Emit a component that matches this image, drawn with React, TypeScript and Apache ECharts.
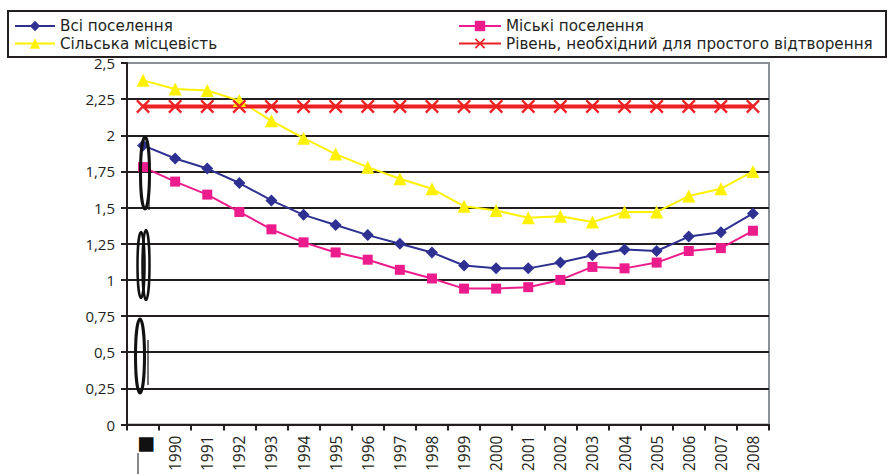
import React, { useEffect, useRef } from "react";
import * as echarts from "echarts";

const categories = ["1989", "1990", "1991", "1992", "1993", "1994", "1995", "1996", "1997", "1998", "1999", "2000", "2001", "2002", "2003", "2004", "2005", "2006", "2007", "2008"];
const allSettlements = [1.93, 1.84, 1.77, 1.67, 1.55, 1.45, 1.38, 1.31, 1.25, 1.19, 1.10, 1.08, 1.08, 1.12, 1.17, 1.21, 1.20, 1.30, 1.33, 1.46];
const urban = [1.78, 1.68, 1.59, 1.47, 1.35, 1.26, 1.19, 1.14, 1.07, 1.01, 0.94, 0.94, 0.95, 1.00, 1.09, 1.08, 1.12, 1.20, 1.22, 1.34];
const rural = [2.38, 2.32, 2.31, 2.24, 2.10, 1.98, 1.87, 1.78, 1.70, 1.63, 1.51, 1.48, 1.43, 1.44, 1.40, 1.47, 1.47, 1.58, 1.63, 1.75];
const replacement = [2.2, 2.2, 2.2, 2.2, 2.2, 2.2, 2.2, 2.2, 2.2, 2.2, 2.2, 2.2, 2.2, 2.2, 2.2, 2.2, 2.2, 2.2, 2.2, 2.2];
const seriesNames = ["Всі поселення", "Міські поселення", "Сільська місцевість", "Рівень, необхідний для простого відтворення"];

const FONT = "Open Sans";
const LEGEND_FONT = "DejaVu Sans";
const CROSS = "path://M0,1.2 L1.2,0 L5,3.8 L8.8,0 L10,1.2 L6.2,5 L10,8.8 L8.8,10 L5,6.2 L1.2,10 L0,8.8 L3.8,5 Z";

export default function App() {
  const ref = useRef<HTMLDivElement>(null);
  useEffect(() => {
    const chart = echarts.init(ref.current!, null, { renderer: "svg" });
    const legendText = { fontFamily: LEGEND_FONT, fontSize: 15.2, color: "#231f20", lineHeight: 15 };
    const mkLegend = (name: string, left: number, top: number, w: number) => ({
      data: [name], orient: "horizontal", left, top, itemWidth: w, itemHeight: 13, itemGap: 0,
      textStyle: legendText, padding: 0,
    });
    chart.setOption({
      animation: false,
      backgroundColor: "#ffffff",
      textStyle: { fontFamily: FONT },
      grid: { left: 127, right: 120, top: 63, bottom: 49, show: true, borderColor: "#8a9196", borderWidth: 2 },
      legend: [
        mkLegend(seriesNames[0], 14, 18.5, 40),
        mkLegend(seriesNames[2], 14, 36, 40),
        mkLegend(seriesNames[1], 458, 18.5, 42),
        mkLegend(seriesNames[3], 458, 36, 42),
      ],
      graphic: [
        { type: "rect", shape: { x: 8, y: 11, width: 878, height: 46 }, style: { fill: "none", stroke: "#231f20", lineWidth: 2 }, z: 10 },
        // garbled glyph artefacts of the original
        { type: "ellipse", shape: { cx: 145, cy: 173, rx: 4.5, ry: 36 }, style: { fill: "none", stroke: "#111", lineWidth: 3 }, z: 5 },
        { type: "line", shape: { x1: 149, y1: 168, x2: 149, y2: 210 }, style: { stroke: "#111", lineWidth: 1.2 }, z: 5 },
        { type: "ellipse", shape: { cx: 141, cy: 265, rx: 3.5, ry: 33 }, style: { fill: "none", stroke: "#111", lineWidth: 2.5 }, z: 5 },
        { type: "ellipse", shape: { cx: 146, cy: 265, rx: 3.5, ry: 35 }, style: { fill: "none", stroke: "#111", lineWidth: 2.5 }, z: 5 },
        { type: "ellipse", shape: { cx: 140, cy: 356, rx: 4.5, ry: 37 }, style: { fill: "none", stroke: "#111", lineWidth: 3 }, z: 5 },
        { type: "line", shape: { x1: 148, y1: 340, x2: 148, y2: 385 }, style: { stroke: "#111", lineWidth: 1.2 }, z: 5 },
        { type: "line", shape: { x1: 138, y1: 453, x2: 138, y2: 474 }, style: { stroke: "#111", lineWidth: 1 }, z: 5 },
      ],
      xAxis: {
        type: "category",
        data: categories,
        boundaryGap: true,
        axisLine: { lineStyle: { color: "#231f20", width: 2 } },
        axisTick: { show: true, length: 6, lineStyle: { color: "#231f20", width: 2 } },
        axisLabel: {
          interval: 0, rotate: 90, fontSize: 15.5, color: "#231f20", margin: 11, fontFamily: FONT,
          formatter: (v: string, i: number) => (i === 0 ? "{b|■}" : v),
          rich: { b: { fontSize: 30, color: "#111", fontFamily: FONT } },
        },
        splitLine: { show: false },
      },
      yAxis: {
        type: "value",
        min: 0, max: 2.5, interval: 0.25,
        axisLine: { show: true, lineStyle: { color: "#231f20", width: 2 } },
        axisTick: { show: true, length: 6, lineStyle: { color: "#231f20", width: 2 } },
        axisLabel: {
          fontSize: 15, color: "#231f20", margin: 12, fontFamily: FONT,
          formatter: (v: number) => String(Math.round(v * 100) / 100).replace(".", ","),
        },
        splitLine: {
          show: true,
          lineStyle: { color: ["#231f20", "#231f20", "#231f20", "#231f20", "#231f20", "#231f20", "#231f20", "#231f20", "#231f20", "#231f20", "#8a9196"], width: 2 },
        },
      },
      series: [
        {
          name: seriesNames[0], type: "line", data: allSettlements,
          symbol: "diamond", symbolSize: 12, color: "#2e3192",
          lineStyle: { width: 2, color: "#2e3192" }, itemStyle: { color: "#2e3192" }, z: 4,
        },
        {
          name: seriesNames[1], type: "line", data: urban,
          symbol: "rect", symbolSize: 10, color: "#ec1c8c",
          lineStyle: { width: 2, color: "#ec1c8c" }, itemStyle: { color: "#ec1c8c" }, z: 3,
        },
        {
          name: seriesNames[2], type: "line", data: rural,
          symbol: "triangle", symbolSize: 13, color: "#fff200",
          lineStyle: { width: 2, color: "#fff200" }, itemStyle: { color: "#fff200" }, z: 2,
        },
        {
          name: seriesNames[3], type: "line", data: replacement,
          symbol: CROSS, symbolSize: 14, color: "#ed2024",
          lineStyle: { width: 4, color: "#ed2024" }, itemStyle: { color: "#ed2024" }, z: 2,
        },
      ],
    });
    return () => chart.dispose();
  }, []);
  return <div ref={ref} style={{ width: 889, height: 474, position: "absolute", left: 0, top: 0 }} />;
}
